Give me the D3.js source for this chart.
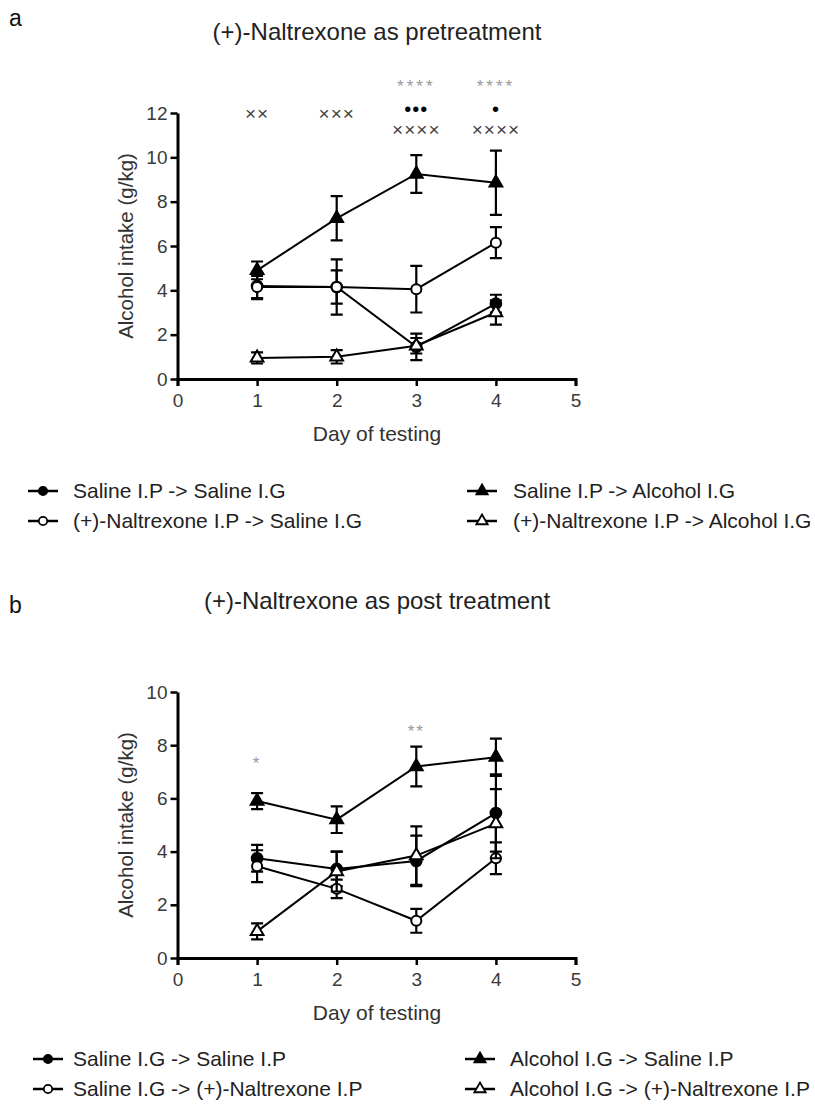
<!DOCTYPE html>
<html>
<head>
<meta charset="utf-8">
<script src="https://cdn.jsdelivr.net/npm/d3@7"></script>
<style>
  body { margin: 0; background: #fff; }
  svg text { font-family: 'Liberation Sans', Arial, sans-serif; }
</style>
</head>
<body>
<script>
// days on the x axis
const days = [1, 2, 3, 4];
const xTicks = [0, 1, 2, 3, 4, 5];

// panel a: (+)-Naltrexone as pretreatment
const salSalA = [4.2, 4.15, 1.45, 3.4];
const salSalAErr = [0.6, 1.25, 0.6, 0.4];
const salAlcA = [4.9, 7.25, 9.25, 8.85];
const salAlcAErr = [0.4, 1.0, 0.85, 1.45];
const naltSalA = [4.15, 4.15, 4.05, 6.15];
const naltSalAErr = [0.5, 0.75, 1.05, 0.7];
const naltAlcA = [0.95, 1.0, 1.5, 3.0];
const naltAlcAErr = [0.25, 0.3, 0.35, 0.55];
const yTicksA = [0, 2, 4, 6, 8, 10, 12];
const labelsA = ['Saline I.P -> Saline I.G', '(+)-Naltrexone I.P -> Saline I.G',
                 'Saline I.P -> Alcohol I.G', '(+)-Naltrexone I.P -> Alcohol I.G'];
const crossA = ['××', '×××', '××××', '××××'];
const dotA = ['', '', '•••', '•'];
const starA = ['', '', '****', '****'];

// panel b: (+)-Naltrexone as post treatment
const salSalB = [3.75, 3.35, 3.65, 5.45];
const salSalBErr = [0.5, 0.65, 0.95, 1.45];
const alcSalB = [5.9, 5.2, 7.2, 7.55];
const alcSalBErr = [0.3, 0.5, 0.75, 0.7];
const salNaltB = [3.45, 2.6, 1.4, 3.75];
const salNaltBErr = [0.6, 0.35, 0.45, 0.6];
const alcNaltB = [1.0, 3.25, 3.85, 5.05];
const alcNaltBErr = [0.3, 0.75, 1.1, 1.3];
const yTicksB = [0, 2, 4, 6, 8, 10];
const labelsB = ['Saline I.G -> Saline I.P', 'Saline I.G -> (+)-Naltrexone I.P',
                 'Alcohol I.G -> Saline I.P', 'Alcohol I.G -> (+)-Naltrexone I.P'];
const starB = ['*', '', '**', ''];

const svg = d3.select('body').append('svg')
    .attr('width', 815)
    .attr('height', 1109);

// marker shapes: filled circle, open circle, filled triangle, open triangle
const shapes = [
    { type: d3.symbolCircle, fill: '#000', size: 90 },
    { type: d3.symbolCircle, fill: '#fff', size: 80 },
    { type: d3.symbolTriangle, fill: '#000', size: 70 },
    { type: d3.symbolTriangle, fill: '#fff', size: 70 }
];

function drawPanel(opt) {
    const x = d3.scaleLinear().domain([0, 5]).range([177.5, 575.5]);
    const y = d3.scaleLinear().domain([0, opt.yMax]).range([opt.y0, opt.yTop]);

    svg.append('text')
        .attr('x', 9).attr('y', opt.letterY)
        .style('font-size', '23px')
        .style('fill', '#111')
        .text(opt.letter);

    svg.append('text')
        .attr('x', 377).attr('y', opt.titleY)
        .attr('text-anchor', 'middle')
        .style('font-size', '24px')
        .style('fill', '#222')
        .text(opt.title);

    const xAxis = svg.append('g')
        .attr('transform', `translate(0,${opt.y0})`)
        .call(d3.axisBottom(x).tickValues(xTicks).tickFormat(d3.format('d')).tickSize(7).tickSizeOuter(7).tickPadding(8));
    const yAxis = svg.append('g')
        .attr('transform', `translate(177.5,0)`)
        .call(d3.axisLeft(y).tickValues(opt.yTicks).tickSize(7).tickSizeOuter(0).tickPadding(3));
    [xAxis, yAxis].forEach(a => {
        a.select('.domain').attr('stroke-width', 3);
        a.selectAll('.tick line').attr('stroke-width', 2.5);
        a.selectAll('.tick text')
            .style('font-size', '19px')
            .style('fill', '#3a3a3a');
    });

    svg.append('text')
        .attr('transform', `translate(133,${(opt.y0 + opt.yTop) / 2}) rotate(-90)`)
        .attr('text-anchor', 'middle')
        .style('font-size', '20.5px')
        .style('fill', '#333')
        .text('Alcohol intake (g/kg)');

    svg.append('text')
        .attr('x', 377).attr('y', opt.y0 + 62)
        .attr('text-anchor', 'middle')
        .style('font-size', '21px')
        .style('fill', '#333')
        .text('Day of testing');

    const line = d3.line().x((d, i) => x(days[i])).y(d => y(d));

    opt.series.forEach((s, k) => {
        const g = svg.append('g');
        g.append('path')
            .datum(s.values)
            .attr('d', line)
            .attr('fill', 'none')
            .attr('stroke', '#000')
            .attr('stroke-width', 2);
        s.values.forEach((v, i) => {
            const cx = x(days[i]);
            const lo = y(v - s.err[i]);
            const hi = y(v + s.err[i]);
            g.append('path')
                .attr('d', `M${cx},${lo}V${hi}M${cx - 6},${lo}H${cx + 6}M${cx - 6},${hi}H${cx + 6}`)
                .attr('stroke', '#000')
                .attr('stroke-width', 2.2)
                .attr('fill', 'none');
        });
        g.selectAll('.pt')
            .data(s.values)
            .enter()
            .append('path')
            .attr('transform', (d, i) => `translate(${x(days[i])},${y(d)})`)
            .attr('d', d3.symbol().type(shapes[k].type).size(shapes[k].size))
            .attr('fill', shapes[k].fill)
            .attr('stroke', '#000')
            .attr('stroke-width', 2);
    });

    opt.marks.forEach(m => {
        m.text.forEach((t, i) => {
            if (!t) return;
            svg.append('text')
                .attr('x', x(days[i]))
                .attr('y', y(m.at(i)))
                .attr('text-anchor', 'middle')
                .style('font-size', m.size)
                .style('letter-spacing', m.spacing)
                .style('fill', m.color)
                .text(t);
        });
    });

    // legend
    opt.labels.forEach((lab, k) => {
        const col = k < 2 ? 0 : 1;
        const row = k % 2;
        const lx = opt.legX[col];
        const ly = opt.legY + row * 30;
        svg.append('line')
            .attr('x1', lx).attr('x2', lx + 30)
            .attr('y1', ly).attr('y2', ly)
            .attr('stroke', '#000').attr('stroke-width', 2.5);
        svg.append('path')
            .attr('transform', `translate(${lx + 15},${ly})`)
            .attr('d', d3.symbol().type(shapes[k].type).size(55))
            .attr('fill', shapes[k].fill)
            .attr('stroke', '#000')
            .attr('stroke-width', 1.8);
        svg.append('text')
            .attr('x', opt.textX[col]).attr('y', ly + 7)
            .style('font-size', '21px')
            .style('fill', '#222')
            .text(lab);
    });
}

drawPanel({
    letter: 'a', letterY: 26, title: '(+)-Naltrexone as pretreatment', titleY: 40,
    yMax: 12, y0: 379, yTop: 113, yTicks: yTicksA,
    series: [
        { values: salSalA, err: salSalAErr },
        { values: naltSalA, err: naltSalAErr },
        { values: salAlcA, err: salAlcAErr },
        { values: naltAlcA, err: naltAlcAErr }
    ],
    marks: [
        { text: crossA, at: i => (i < 2 ? 11.7 : 10.95), size: '19px', spacing: '1px', color: '#444' },
        { text: dotA, at: () => 11.85, size: '20px', spacing: '1px', color: '#000' },
        { text: starA, at: () => 12.95, size: '17px', spacing: '3px', color: '#999' }
    ],
    labels: labelsA, legX: [28, 467], textX: [73, 513], legY: 491
});

drawPanel({
    letter: 'b', letterY: 613, title: '(+)-Naltrexone as post treatment', titleY: 609,
    yMax: 10, y0: 958, yTop: 692, yTicks: yTicksB,
    series: [
        { values: salSalB, err: salSalBErr },
        { values: salNaltB, err: salNaltBErr },
        { values: alcSalB, err: alcSalBErr },
        { values: alcNaltB, err: alcNaltBErr }
    ],
    marks: [
        { text: starB, at: i => (i === 0 ? 7.1 : 8.3), size: '17px', spacing: '2px', color: '#999' }
    ],
    labels: labelsB, legX: [33, 465], textX: [73, 510], legY: 1059
});
</script>
</body>
</html>
